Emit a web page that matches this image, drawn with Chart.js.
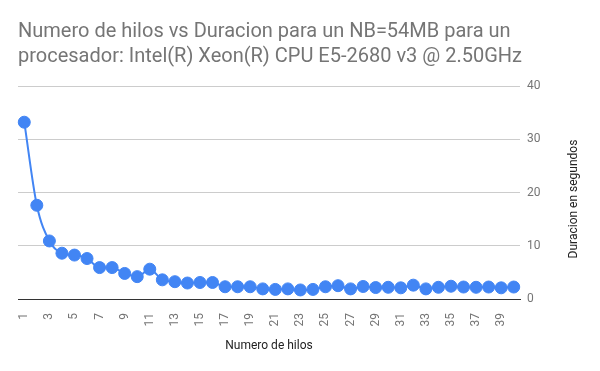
<!DOCTYPE html>
<html lang="es">
<head>
    <meta charset="UTF-8">
    <title>Numero de hilos vs Duracion</title>
    <style>
        body { margin: 0; background: #fff; }
        #wrap { width: 600px; height: 371px; }
    </style>
    <script src="https://cdn.jsdelivr.net/npm/chart.js"></script>
</head>
<body>
    <div id="wrap"><canvas id="chart" width="600" height="371"></canvas></div>

    <script>
        // Numero de hilos (categorias del eje x)
        const hilos = ['1', '2', '3', '4', '5', '6', '7', '8', '9', '10',
                       '11', '12', '13', '14', '15', '16', '17', '18', '19', '20',
                       '21', '22', '23', '24', '25', '26', '27', '28', '29', '30',
                       '31', '32', '33', '34', '35', '36', '37', '38', '39', '40'];

        // Duracion en segundos
        const duracion = [33.2, 17.6, 10.9, 8.6, 8.25, 7.6, 5.9, 5.9, 4.8, 4.2,
                          5.6, 3.6, 3.25, 3.0, 3.1, 3.1, 2.3, 2.3, 2.3, 1.9,
                          1.8, 1.9, 1.7, 1.8, 2.3, 2.5, 1.9, 2.35, 2.15, 2.2,
                          2.1, 2.6, 1.9, 2.2, 2.4, 2.25, 2.2, 2.25, 2.1, 2.25];

        const yTicks = [0, 10, 20, 30, 40];

        const titulo = ['Numero de hilos vs Duracion para un NB=54MB para un',
                        'procesador: Intel(R) Xeon(R) CPU E5-2680 v3 @ 2.50GHz'];

        // y axis title reads bottom-to-top on the right side, draw it by hand
        const yTitlePlugin = {
            id: 'yTitle',
            afterDraw(chart) {
                const ctx = chart.ctx;
                ctx.save();
                ctx.translate(574, 199);
                ctx.rotate(-Math.PI / 2);
                ctx.font = '12px Roboto';
                ctx.fillStyle = '#222';
                ctx.textAlign = 'center';
                ctx.textBaseline = 'middle';
                ctx.fillText('Duracion en segundos', 0, 0);
                ctx.restore();
            }
        };

        new Chart(document.getElementById('chart'), {
            type: 'line',
            data: {
                labels: hilos,
                datasets: [{
                    label: 'Duracion',
                    data: duracion,
                    borderColor: '#4285F4',
                    backgroundColor: '#4285F4',
                    borderWidth: 2,
                    pointRadius: 6,
                    pointBorderWidth: 1,
                    pointBorderColor: '#4285F4',
                    pointBackgroundColor: '#4285F4',
                    cubicInterpolationMode: 'monotone'
                }]
            },
            options: {
                responsive: false,
                animation: false,
                layout: { padding: { left: 18 } },
                plugins: {
                    legend: { display: false },
                    tooltip: { enabled: false },
                    title: {
                        display: true,
                        text: titulo,
                        align: 'start',
                        color: '#757575',
                        font: { family: 'Roboto', size: 20, weight: 'normal', lineHeight: 1.25 },
                        padding: { top: 19, bottom: 17 }
                    }
                },
                scales: {
                    x: {
                        offset: true,
                        afterFit: s => { s.height = 72; },
                        grid: { display: false },
                        border: { color: '#333', width: 1 },
                        ticks: {
                            autoSkip: false,
                            minRotation: 90,
                            maxRotation: 90,
                            padding: 6,
                            color: '#757575',
                            font: { family: 'Roboto', size: 12 },
                            callback: (v, i) => (i % 2 === 0 ? hilos[i] : '')
                        },
                        title: {
                            display: true,
                            text: 'Numero de hilos',
                            color: '#222',
                            font: { family: 'Roboto', size: 12 },
                            padding: { top: 0, bottom: 18 }
                        }
                    },
                    y: {
                        position: 'right',
                        min: yTicks[0],
                        max: yTicks[yTicks.length - 1],
                        afterFit: s => { s.width = 80; },
                        afterBuildTicks: s => { s.ticks = yTicks.map(v => ({ value: v })); },
                        border: { display: false },
                        grid: {
                            drawTicks: false,
                            color: c => (c.tick && c.tick.value === 0 ? '#333' : '#cccccc')
                        },
                        ticks: {
                            padding: 7,
                            color: '#757575',
                            font: { family: 'Roboto', size: 12 }
                        }
                    }
                }
            },
            plugins: [yTitlePlugin]
        });
    </script>
</body>
</html>
